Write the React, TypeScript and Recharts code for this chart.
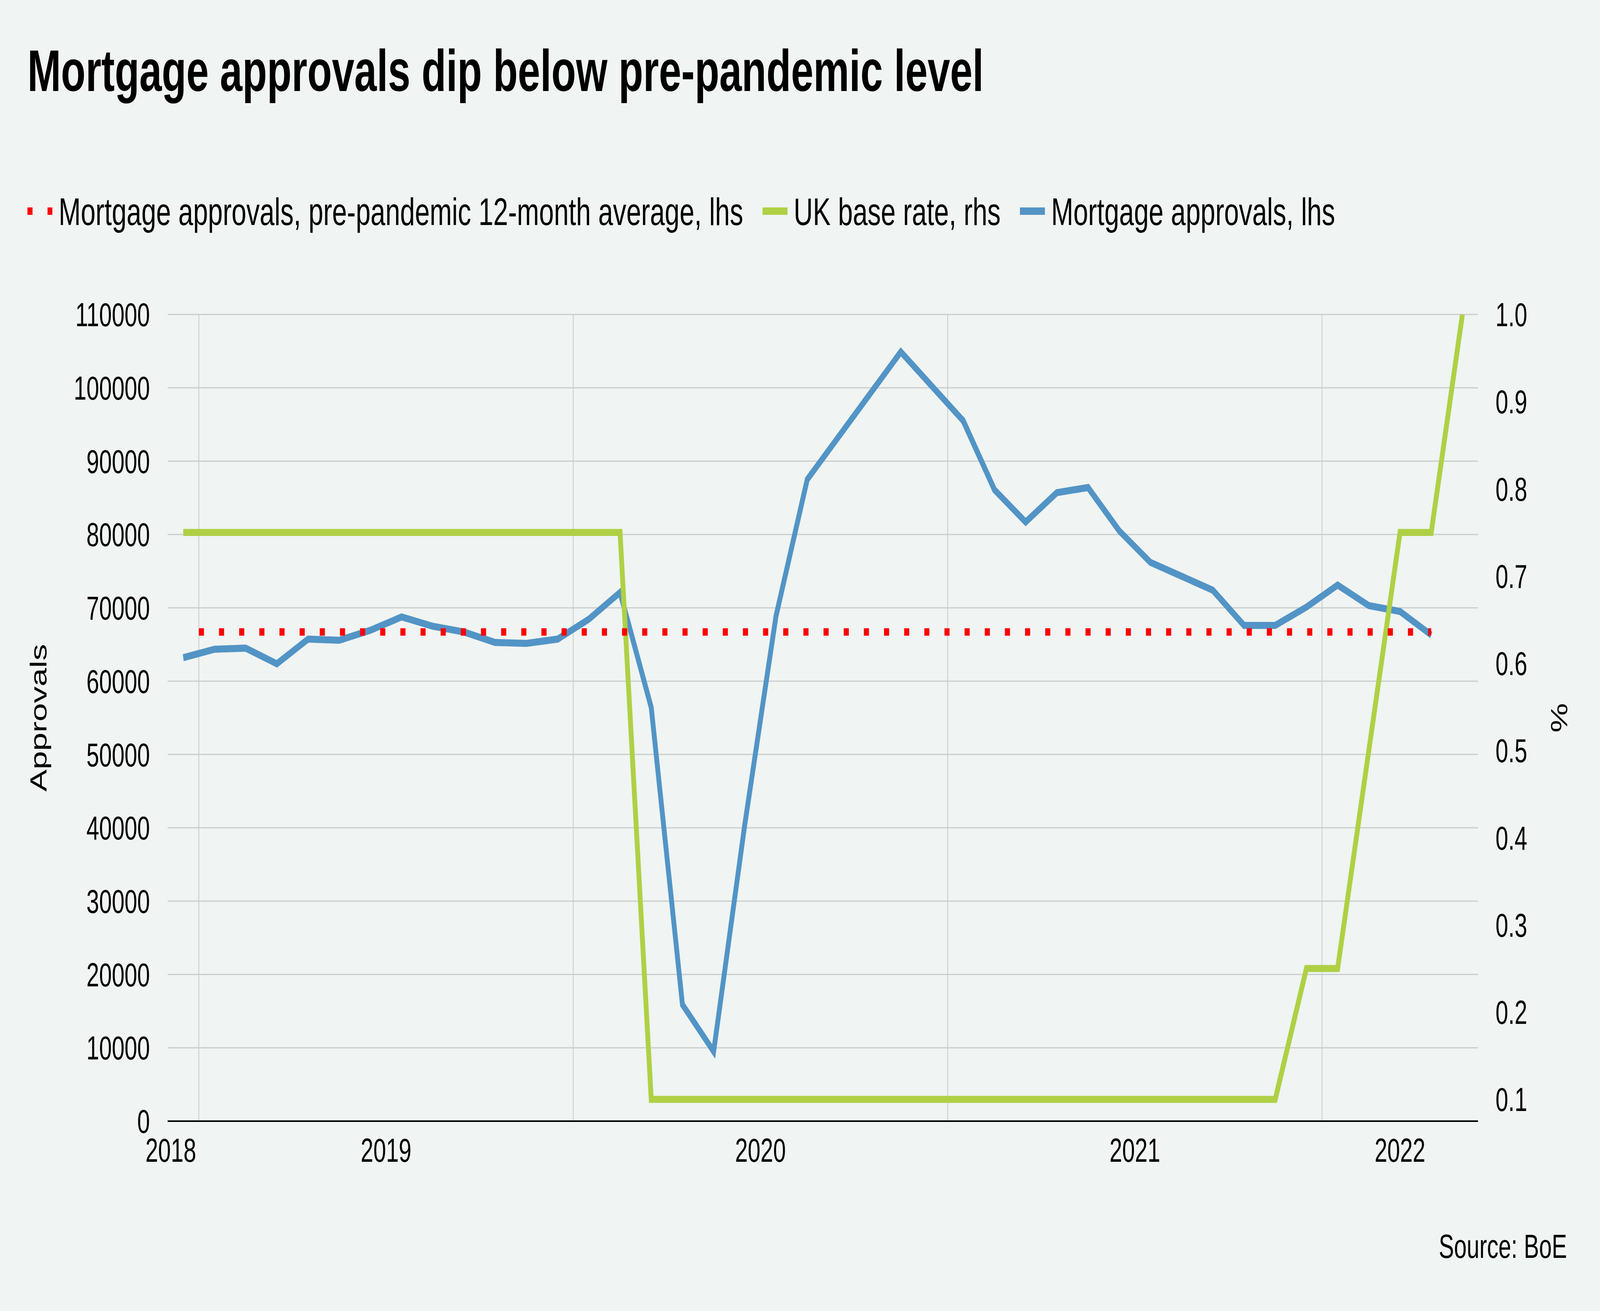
import React from 'react';
import { LineChart, Line, XAxis, YAxis, CartesianGrid, Label } from 'recharts';

// monthly observations, Dec 2018 .. May 2022
const monthLabels = [
  'Dec-18', 'Jan-19', 'Feb-19', 'Mar-19', 'Apr-19', 'May-19', 'Jun-19', 'Jul-19', 'Aug-19', 'Sep-19',
  'Oct-19', 'Nov-19', 'Dec-19', 'Jan-20', 'Feb-20', 'Mar-20', 'Apr-20', 'May-20', 'Jun-20', 'Jul-20',
  'Aug-20', 'Sep-20', 'Oct-20', 'Nov-20', 'Dec-20', 'Jan-21', 'Feb-21', 'Mar-21', 'Apr-21', 'May-21',
  'Jun-21', 'Jul-21', 'Aug-21', 'Sep-21', 'Oct-21', 'Nov-21', 'Dec-21', 'Jan-22', 'Feb-22', 'Mar-22',
  'Apr-22', 'May-22',
];

// Mortgage approvals, lhs (Dec-18 .. Apr-22)
const approvals = [
  63200, 64350, 64500, 62370, 65730, 65570, 66940, 68760, 67480, 66700,
  65270, 65150, 65730, 68450, 72100, 56400, 15900, 9500, 40500, 68900,
  87500, 93300, 99100, 104900, 100200, 95500, 86100, 81700, 85700, 86400,
  80500, 76200, 74300, 72400, 67600, 67600, 70100, 73100, 70300, 69500,
  66300,
];

// UK base rate, rhs (%)
const baseRate = [
  0.75, 0.75, 0.75, 0.75, 0.75, 0.75, 0.75, 0.75, 0.75, 0.75,
  0.75, 0.75, 0.75, 0.75, 0.75, 0.1, 0.1, 0.1, 0.1, 0.1,
  0.1, 0.1, 0.1, 0.1, 0.1, 0.1, 0.1, 0.1, 0.1, 0.1,
  0.1, 0.1, 0.1, 0.1, 0.1, 0.1, 0.25, 0.25, 0.5, 0.75,
  0.75, 1.0,
];

// pre-pandemic 12-month average, drawn across the month span below
const preAverage = 66700;
const averageSpan = [0.5, 40];

const monthDomain = [-0.5, 41.5];
const yearTicks = [-0.4, 6.5, 18.5, 30.5, 39];
const yearLabels = ['2018', '2019', '2020', '2021', '2022'];
const yearBoundaries = [0.5, 12.5, 24.5, 36.5];

const leftTicks = [0, 10000, 20000, 30000, 40000, 50000, 60000, 70000, 80000, 90000, 100000, 110000];
const rightTicks = [0.1, 0.2, 0.3, 0.4, 0.5, 0.6, 0.7, 0.8, 0.9, 1.0];

const legendItems = [
  { name: 'Mortgage approvals, pre-pandemic 12-month average, lhs', color: '#ff0000', dotted: true },
  { name: 'UK base rate, rhs', color: '#afd045', dotted: false },
  { name: 'Mortgage approvals, lhs', color: '#5294c6', dotted: false },
];

const rows = monthLabels.map((label, i) => ({
  m: i,
  label,
  approvals: approvals[i],
  rate: baseRate[i],
}));

const averageRows = averageSpan.map((m) => ({ m, avg: preAverage }));

const FONT = '"Liberation Sans", Arial, sans-serif';
const W = 5955;
const H = 3356;

const AxisTitle = (props: any) => {
  const { viewBox, value, shift } = props;
  if (!viewBox) return null;
  const cx = viewBox.x + shift;
  const cy = viewBox.y + viewBox.height / 2;
  return (
    <text
      x={cx}
      y={cy}
      transform={`rotate(-90 ${cx} ${cy})`}
      textAnchor="middle"
      dominantBaseline="central"
      fontSize={85}
      fontFamily={FONT}
      fill="#000"
    >
      {value}
    </text>
  );
};

// year boundaries as vertical gridlines, placed through the x scale
const yearGrid = (props: any) => {
  const xAxis = props && props.xAxis;
  const scale = xAxis && xAxis.scale;
  if (typeof scale === 'function') return yearBoundaries.map((m) => scale(m));
  if (scale && typeof scale.map === 'function') return yearBoundaries.map((m) => scale.map(m));
  const off = props && props.offset;
  if (!off) return [];
  const [d0, d1] = monthDomain;
  return yearBoundaries.map((m) => off.left + ((m - d0) / (d1 - d0)) * off.width);
};

export default function App() {
  // the page may be narrower than the reference frame; fit the frame to it
  const vw = typeof window !== 'undefined' ? window.innerWidth : W;
  const vh = typeof window !== 'undefined' ? window.innerHeight : H;
  const sx = vw / W;
  const sy = vh / H;

  return (
    <div
      style={{
        position: 'fixed',
        left: 0,
        top: 0,
        width: W,
        height: H,
        transform: `scale(${sx}, ${sy})`,
        transformOrigin: '0 0',
        background: '#f0f4f2',
        fontFamily: FONT,
        color: '#000',
        overflow: 'hidden',
      }}
    >
      <div
        style={{
          position: 'absolute',
          left: 102,
          top: 106,
          fontSize: 150,
          lineHeight: '150px',
          fontWeight: 700,
          whiteSpace: 'nowrap',
        }}
      >
        Mortgage approvals dip below pre-pandemic level
      </div>

      <div
        style={{
          position: 'absolute',
          left: 102,
          top: 492,
          display: 'flex',
          alignItems: 'center',
          fontSize: 99,
          lineHeight: '99px',
          whiteSpace: 'nowrap',
        }}
      >
        {legendItems.map((item) => (
          <div key={item.name} style={{ display: 'flex', alignItems: 'center', marginRight: 72 }}>
            <svg width={93} height={19} style={{ marginRight: 23, marginTop: -2 }}>
              <line
                x1={0}
                y1={9.5}
                x2={93}
                y2={9.5}
                stroke={item.color}
                strokeWidth={19}
                strokeDasharray={item.dotted ? '19 56' : undefined}
              />
            </svg>
            <span>{item.name}</span>
          </div>
        ))}
      </div>

      <div style={{ position: 'absolute', left: 0, top: 0 }}>
        <LineChart
          width={W}
          height={H}
          data={rows}
          margin={{ top: 805, right: 0, bottom: 0, left: 0 }}
        >
          <CartesianGrid
            yAxisId="left"
            stroke="#c8cccb"
            strokeWidth={3}
            verticalCoordinatesGenerator={yearGrid}
          />
          <XAxis
            dataKey="m"
            type="number"
            domain={monthDomain}
            allowDataOverflow
            ticks={yearTicks}
            interval={0}
            tickFormatter={(v: number) => yearLabels[yearTicks.indexOf(v)] ?? ''}
            height={486}
            tickLine={false}
            tickSize={0}
            tickMargin={44}
            axisLine={{ stroke: '#000', strokeWidth: 4 }}
            tick={{ fontSize: 85, fontFamily: FONT, fill: '#000' }}
          />
          <YAxis
            yAxisId="left"
            orientation="left"
            domain={[0, 110000]}
            ticks={leftTicks}
            interval={0}
            allowDataOverflow
            width={624}
            tickLine={false}
            tickSize={0}
            tickMargin={66}
            axisLine={false}
            tick={{ fontSize: 85, fontFamily: FONT, fill: '#000' }}
          >
            <Label content={<AxisTitle value="Approvals" shift={143} />} />
          </YAxis>
          <YAxis
            yAxisId="right"
            orientation="right"
            domain={[0.075, 1.0]}
            ticks={rightTicks}
            interval={0}
            allowDataOverflow
            width={454}
            tickLine={false}
            tickSize={0}
            tickMargin={65}
            axisLine={false}
            tickFormatter={(v: number) => v.toFixed(1)}
            tick={{ fontSize: 85, fontFamily: FONT, fill: '#000' }}
          >
            <Label content={<AxisTitle value="%" shift={302} />} />
          </YAxis>
          <Line
            yAxisId="left"
            dataKey="approvals"
            type="linear"
            stroke="#5294c6"
            strokeWidth={18}
            dot={false}
            activeDot={false}
            isAnimationActive={false}
          />
          <Line
            yAxisId="right"
            dataKey="rate"
            type="linear"
            stroke="#afd045"
            strokeWidth={18}
            dot={false}
            activeDot={false}
            isAnimationActive={false}
          />
          <Line
            yAxisId="left"
            data={averageRows}
            dataKey="avg"
            type="linear"
            stroke="#ff0000"
            strokeWidth={19}
            strokeDasharray="19 56"
            dot={false}
            activeDot={false}
            isAnimationActive={false}
          />
        </LineChart>
      </div>

      <div
        style={{
          position: 'absolute',
          right: 123,
          top: 3148,
          fontSize: 85,
          lineHeight: '85px',
          whiteSpace: 'nowrap',
        }}
      >
        Source: BoE
      </div>
    </div>
  );
}
